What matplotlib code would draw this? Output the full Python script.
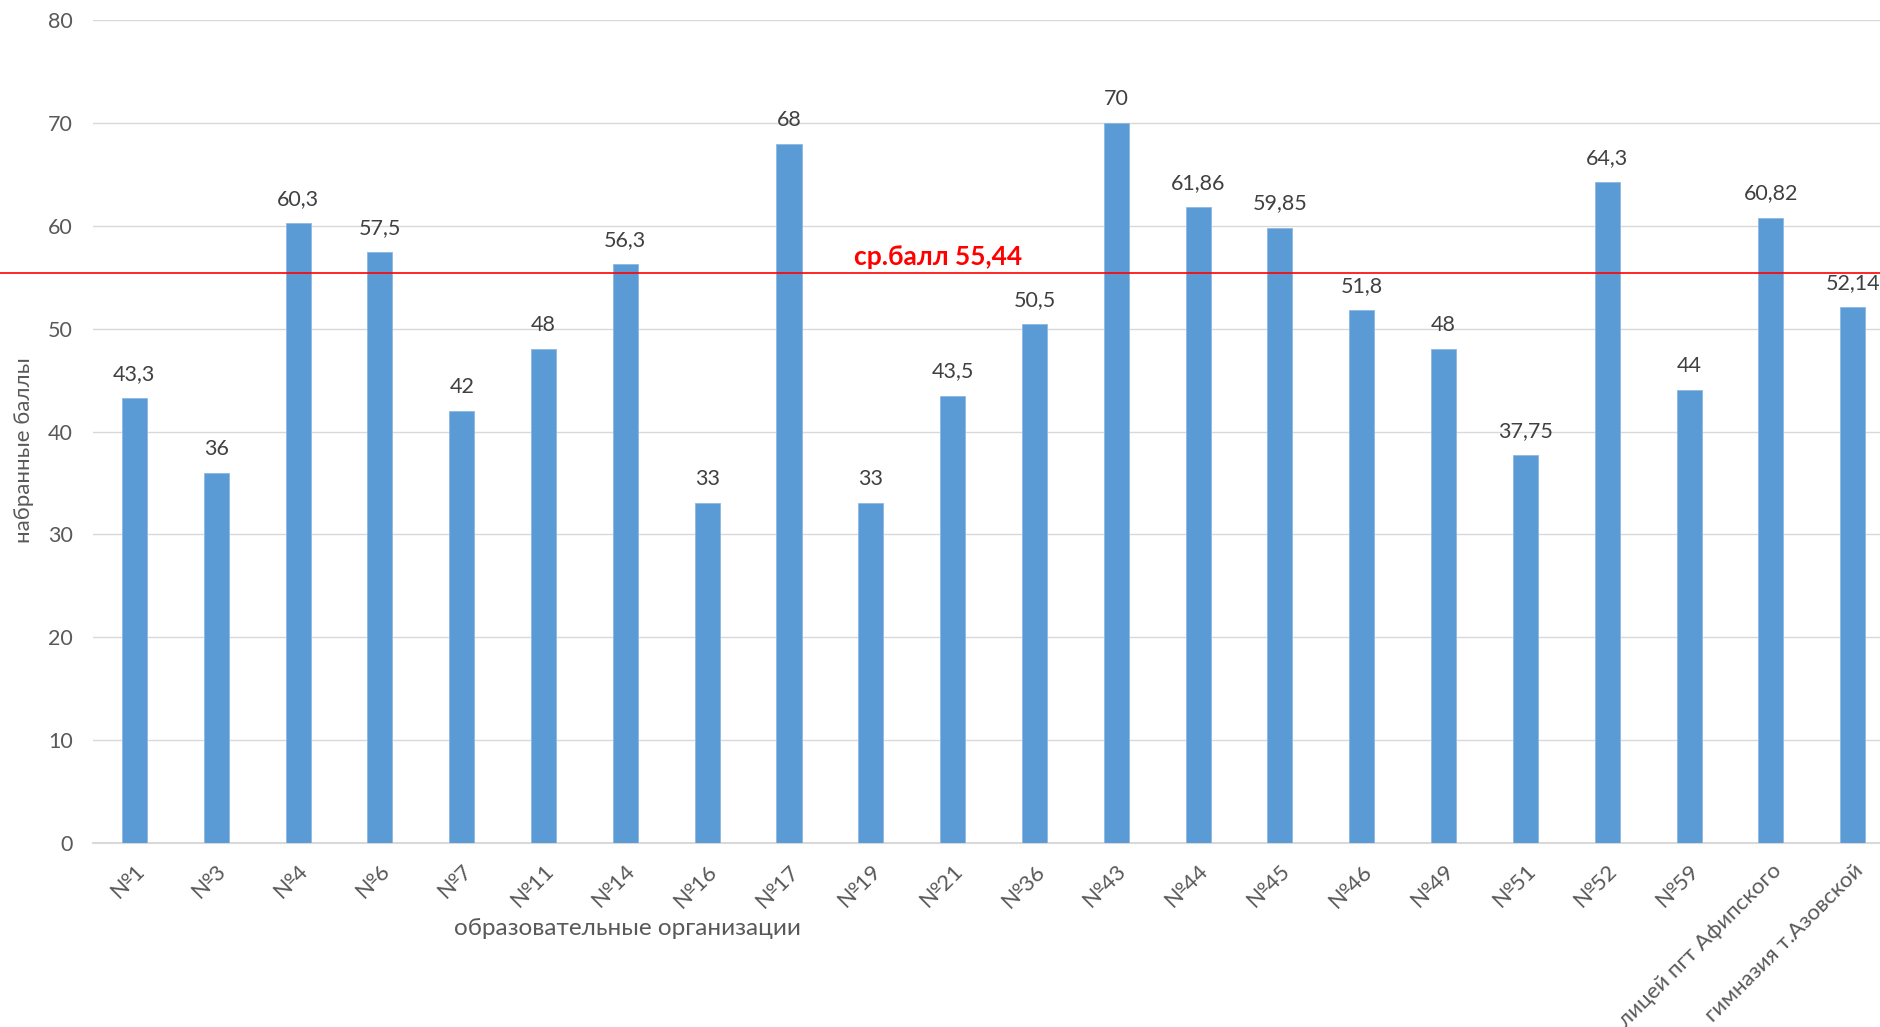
import matplotlib
matplotlib.use("Agg")
import matplotlib.pyplot as plt

plt.rcParams['font.family'] = ['Lato', 'DejaVu Sans']

# данные
schools = ['№1', '№3', '№4', '№6', '№7', '№11', '№14', '№16', '№17', '№19', '№21',
           '№36', '№43', '№44', '№45', '№46', '№49', '№51', '№52', '№59',
           'лицей пгт Афипского', 'гимназия т.Азовской']
scores = [43.3, 36, 60.3, 57.5, 42, 48, 56.3, 33, 68, 33, 43.5,
          50.5, 70, 61.86, 59.85, 51.8, 48, 37.75, 64.3, 44, 60.82, 52.14]
avg_score = 55.44
y_ticks = [0, 10, 20, 30, 40, 50, 60, 70, 80]

fig = plt.figure(figsize=(18.81, 10.27), dpi=100)
# область графика выходит за правый край картинки, как в оригинале
ax = fig.add_axes([0.0497, 0.1795, 0.957, 0.8006])

x = range(len(schools))
ax.bar(x, scores, width=0.306, color='#5B9BD5', edgecolor='#8DB8E2', linewidth=0.6, zorder=3)

for i, v in enumerate(scores):
    txt = ('%g' % v).replace('.', ',')
    ax.annotate(txt, (i, v), xytext=(0, 14), textcoords='offset pixels',
                ha='center', va='bottom', fontsize=15.5, color='#404040')

ax.set_xlim(-0.5, len(schools) - 0.5)
ax.set_ylim(0, 80)
ax.set_yticks(y_ticks)
ax.grid(axis='y', color='#D9D9D9', linewidth=1.0, zorder=0)
ax.set_axisbelow(True)

for s in ['top', 'right', 'left']:
    ax.spines[s].set_visible(False)
ax.spines['bottom'].set_color('#D9D9D9')
ax.spines['bottom'].set_linewidth(1.5)

ax.tick_params(axis='y', length=0, pad=15, labelsize=15.5, labelcolor='#595959')
ax.tick_params(axis='x', length=0, pad=13, labelsize=16, labelcolor='#595959')
ax.set_xticks(list(x))
ax.set_xticklabels(schools, rotation=45, ha='right', rotation_mode='anchor')

# средний балл
ax.axhline(avg_score, xmin=-0.06, xmax=1, color='#FF0000', linewidth=1.2, clip_on=False, zorder=4)
ax.text(9.82, avg_score + 0.35, 'ср.балл ' + ('%g' % avg_score).replace('.', ','),
        color='#FF0000', fontsize=19, fontweight='bold', ha='center', va='bottom')

fig.text(0.0128, 0.562, 'набранные баллы', rotation=90, ha='center', va='center',
         fontsize=16, color='#595959')
fig.text(0.3335, 0.0963, 'образовательные организации', ha='center', va='center',
         fontsize=17.5, color='#595959')

plt.savefig('out.png', dpi=100)
